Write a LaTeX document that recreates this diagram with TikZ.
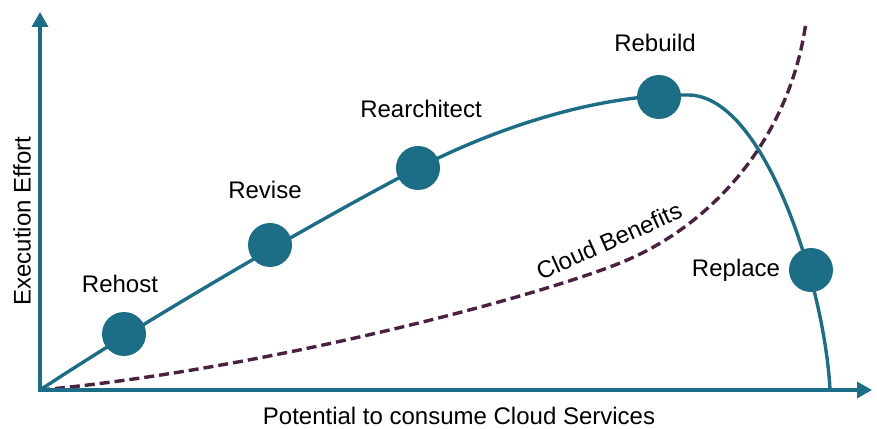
\documentclass[tikz,border=0pt]{standalone}
\usepackage{fontspec}
\setmainfont{Liberation Sans}
\usetikzlibrary{arrows.meta,calc}
\definecolor{effortteal}{HTML}{1B6E85}
\definecolor{benefitplum}{HTML}{4B2142}

\begin{document}
\begin{tikzpicture}[x=1pt,y=1pt,line width=3.4pt,
  stage node/.style={circle,fill=effortteal,inner sep=0pt,minimum size=44pt},
  label node/.style={font=\fontsize{24}{28}\selectfont,inner sep=0pt}]
\useasboundingbox (0,0) rectangle (877,428);

\coordinate (O) at (40,38);
\coordinate (Ytip) at (40,416);
\coordinate (Xtip) at (872,38);
\coordinate (S1) at (124,94);
\coordinate (S2) at (270,183);
\coordinate (S3) at (418,260);
\coordinate (S4) at (659,331);
\coordinate (S5) at (811,158);
\coordinate (Top) at (688,333);
\coordinate (E1) at (830,38);
\coordinate (B0) at (615,163);
\coordinate (B1) at (806,406);

% effort curve
\draw[effortteal] (O) .. controls (160,117) and (336,218) .. (S3)
  .. controls (500,302) and (600,334) .. (Top)
  .. controls (765,333) and (825,140) .. (E1);

% benefits curve
\draw[benefitplum,dash pattern=on 10pt off 5pt] (O) .. controls (260,58) and (525,128) .. (B0)
  .. controls (712,200) and (790,290) .. (B1);

% axes
\draw[effortteal,-{Triangle[length=15pt,width=16pt]}] (O) -- (Ytip);
\draw[effortteal,-{Triangle[length=15pt,width=16pt]}] ($(O)+(-1.7,0)$) -- (Xtip);

\node[stage node](R1) at (S1) {};
\node[stage node](R2) at (S2) {};
\node[stage node](R3) at (S3) {};
\node[stage node](R4) at (S4) {};
\node[stage node](R5) at (S5) {};

\node[label node](L1) at (120,144) {Rehost};
\node[label node](L2) at (265,238) {Revise};
\node[label node](L3) at (421,319) {Rearchitect};
\node[label node](L4) at (655,385) {Rebuild};
\node[label node](L5) at (736,158) {Replace};
\node[label node,rotate=24](L6) at (609,187) {Cloud Benefits};

\node[label node,rotate=90](AY) at (22,207) {Execution Effort};
\node[label node](AX) at (459,12) {Potential to consume Cloud Services};

\end{tikzpicture}
\end{document}
